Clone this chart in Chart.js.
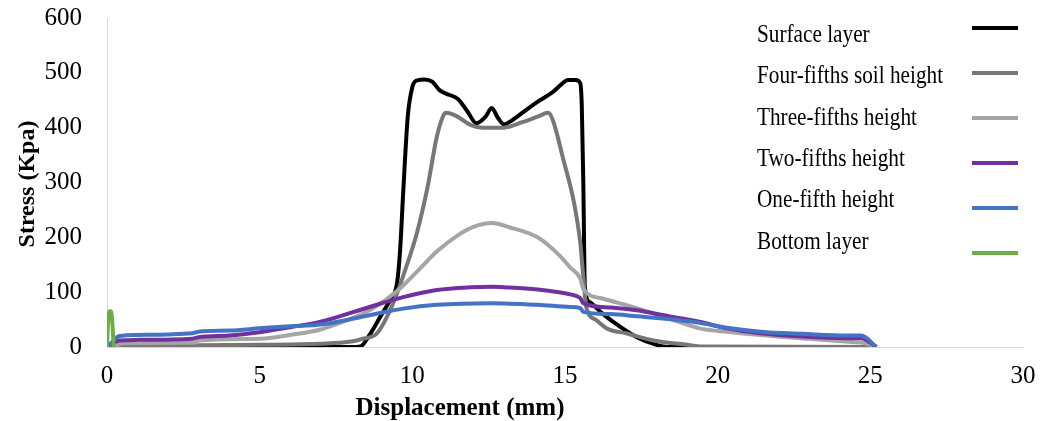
<!DOCTYPE html>
<html>
<head>
<meta charset="utf-8">
<script src="https://cdn.jsdelivr.net/npm/chart.js@4/dist/chart.umd.min.js"></script>
<style>
  html, body { margin: 0; padding: 0; background: #fff; }
  #wrap { width: 1044px; height: 421px; position: relative; }
</style>
</head>
<body>
<div id="wrap"><canvas id="c"></canvas></div>
<script>
// ---- Data (x = displacement mm, y = stress kPa) ----
const seriesLabels = ["Surface layer", "Four-fifths soil height", "Three-fifths height", "Two-fifths height", "One-fifth height", "Bottom layer"];
const seriesColors = ["#000000", "#7a7676", "#a5a5a5", "#7030a0", "#4472c4", "#70ad47"];

const surfaceLayer = [[0,0],[2,0],[5,0],[8,0],[8.3,1],[8.6,22],[8.95,55],[9.27,86],[9.5,117],[9.6,177],[9.7,281],[9.85,420],[10.0,474],[10.15,486],[10.4,488],[10.65,484],[10.9,468],[11.2,460],[11.5,452],[11.8,430],[12.1,408],[12.4,420],[12.6,436],[12.8,418],[13.0,406],[13.2,411],[13.5,423],[14.1,447],[14.6,465],[14.9,480],[15.1,487],[15.35,487],[15.5,481],[15.55,440],[15.6,300],[15.65,110],[15.8,82],[16.25,60],[16.8,37],[17.35,18],[18.0,4],[18.4,0],[25.2,0]];

const fourFifths = [[0,0],[0.5,2],[3,3],[5,4],[7,6],[8,10],[8.3,14],[8.84,25],[9.17,55],[9.5,98],[9.8,146],[10.15,208],[10.5,292],[10.8,383],[11.0,420],[11.1,427],[11.45,421],[11.9,405],[12.3,400],[13.0,400],[13.6,410],[14.1,420],[14.45,427],[14.6,414],[14.95,341],[15.3,262],[15.5,190],[15.6,128],[15.7,72],[16.0,50],[16.4,33],[17.0,25],[17.9,12],[19.0,4],[19.5,1],[25.2,0]];

const threeFifths = [[0,0],[0.3,3],[0.5,7],[2.9,8],[3.0,12],[5,15],[6,22],[7,32],[8,52],[8.7,70],[9.5,102],[10.25,143],[10.8,174],[11.5,204],[12.0,219],[12.6,226],[13.2,218],[14.1,200],[14.8,168],[15.17,145],[15.5,125],[15.6,106],[16.25,88],[17.35,71],[18.4,52],[19.4,34],[20.3,28],[21.4,22],[23.0,15],[24.4,9],[24.8,7],[25.2,0]];

const twoFifths = [[0,0],[0.15,5],[0.4,12],[1,13],[2.8,15],[3.0,18],[4,21],[5,27],[6,36],[7,46],[8.6,73],[9.7,91],[10.8,104],[11.9,109],[12.6,110],[13.0,109],[14.1,105],[14.8,100],[15.17,96],[15.5,89],[15.6,80],[16.5,72],[17.35,67],[18.4,56],[19.4,46],[20.3,34],[21.4,25],[22.8,19],[24.2,16],[24.7,16],[25.2,0]];

const oneFifth = [[0,0],[0.15,8],[0.4,20],[1,22],[2.8,25],[3.0,28],[4,30],[5,34],[6,38],[7,41],[8.6,58],[9.7,70],[10.8,77],[12.55,80],[14.1,77],[15.17,73],[15.5,71],[15.6,64],[16.5,60],[17.35,56],[18.4,51],[19.4,44],[20.3,35],[21.4,28],[22.8,24],[24.2,21],[24.7,21],[25.2,0]];

const bottomLayer = [[0,0],[0.03,40],[0.07,65],[0.13,65],[0.18,40],[0.22,0]];

const allSeries = [surfaceLayer, fourFifths, threeFifths, twoFifths, oneFifth, bottomLayer];

const xTitle = "Displacement (mm)";
const yTitle = "Stress (Kpa)";

const datasets = allSeries.map((pts, i) => ({
  label: seriesLabels[i],
  data: pts.map(p => ({ x: p[0], y: p[1] })),
  borderColor: seriesColors[i],
  backgroundColor: seriesColors[i],
  borderWidth: 4,
  pointRadius: 0,
  showLine: true,
  fill: false,
  cubicInterpolationMode: 'monotone',
  order: allSeries.length - 1 - i
}));

// Custom legend (text left, line sample right) + axis titles
const decorPlugin = {
  id: 'decor',
  afterDraw(chart) {
    const ctx = chart.ctx;
    ctx.save();
    ctx.fillStyle = '#000';
    chart.data.datasets.forEach((ds, i) => {
      const ty = 42 + i * 41.3;
      const ly = 28 + i * 45;
      ctx.save();
      ctx.translate(757, ty);
      ctx.scale(0.85, 1);
      ctx.font = '25px "Liberation Serif", "Times New Roman", serif';
      ctx.textAlign = 'left';
      ctx.textBaseline = 'alphabetic';
      ctx.fillText(ds.label, 0, 0);
      ctx.restore();
      ctx.beginPath();
      ctx.strokeStyle = ds.borderColor;
      ctx.lineWidth = 4;
      ctx.moveTo(972, ly);
      ctx.lineTo(1018, ly);
      ctx.stroke();
    });
    ctx.font = 'bold 25px "Liberation Serif", "Times New Roman", serif';
    ctx.textAlign = 'center';
    ctx.textBaseline = 'alphabetic';
    ctx.fillText(xTitle, 460, 415);
    ctx.save();
    ctx.translate(34, 184);
    ctx.rotate(-Math.PI / 2);
    ctx.font = 'bold 24px "Liberation Serif", "Times New Roman", serif';
    ctx.fillText(yTitle, 0, 0);
    ctx.restore();
    ctx.restore();
  }
};

const tickFont = { family: '"Liberation Serif", "Times New Roman", serif', size: 25 };

new Chart(document.getElementById('c'), {
  type: 'scatter',
  data: { datasets },
  options: {
    responsive: true,
    maintainAspectRatio: false,
    animation: false,
    layout: { padding: { left: 0, right: 21, top: 18, bottom: 0 } },
    plugins: { legend: { display: false }, tooltip: { enabled: false } },
    scales: {
      x: {
        type: 'linear', min: 0, max: 30,
        ticks: { stepSize: 5, color: '#000', font: tickFont, padding: 14, maxRotation: 0 },
        grid: { display: false, drawTicks: false },
        border: { display: true, color: '#d9d9d9', width: 1 },
        afterFit(s) { s.height = 74; s.paddingLeft = 0; s.paddingRight = 0; s.paddingTop = 0; s.paddingBottom = 0; }
      },
      y: {
        type: 'linear', min: 0, max: 600,
        ticks: { stepSize: 100, color: '#000', font: tickFont, padding: 25 },
        grid: { display: false, drawTicks: false },
        border: { display: true, color: '#d9d9d9', width: 1 },
        afterFit(s) { s.width = 107; s.paddingLeft = 0; s.paddingRight = 0; s.paddingTop = 0; s.paddingBottom = 0; }
      }
    }
  },
  plugins: [decorPlugin]
});
</script>
</body>
</html>
